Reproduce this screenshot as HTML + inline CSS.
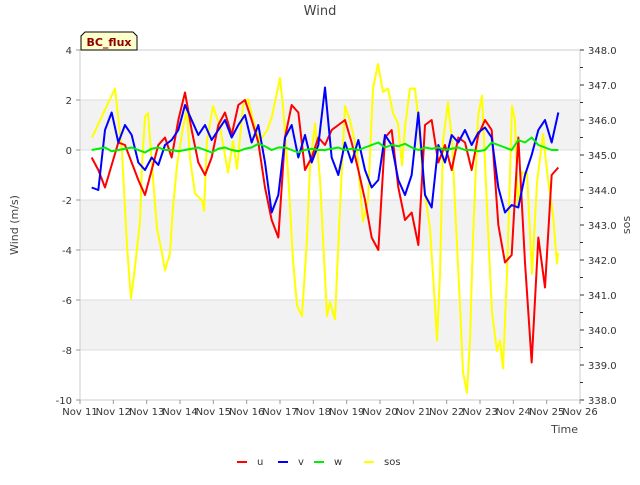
<!DOCTYPE html>
<html><head><meta charset="utf-8"><style>
body{margin:0;background:#fff;font-family:"Liberation Sans","DejaVu Sans",sans-serif}
svg text{font-family:"DejaVu Sans","Liberation Sans",sans-serif}
</style></head><body>
<svg id="chart" width="640" height="480" xmlns="http://www.w3.org/2000/svg">
<rect width="640" height="480" fill="#fff"/>
<g id="bands"></g><g id="grid"></g>
<rect x="80" y="50" width="500" height="350" fill="none" stroke="#ccc"/>
<g id="series"></g><g id="axes"></g>
<text x="320" y="15" text-anchor="middle" font-size="13" fill="#444">Wind</text>
<text transform="translate(18,225) rotate(-90)" text-anchor="middle" font-size="11" fill="#444">Wind (m/s)</text>
<text transform="translate(630,225) rotate(-90)" text-anchor="middle" font-size="11" fill="#444">sos</text>
<text x="578" y="433" text-anchor="end" font-size="11" fill="#444">Time</text>
<g>
<path d="M81,50 L81,36 L85,32 L133,32 L137,36 L137,50 Z" fill="#ffffcc" stroke="#000"/>
<text x="109" y="46" text-anchor="middle" font-size="11" font-weight="bold" fill="#8b0000">BC_flux</text></g>
<g id="legend"></g>
</svg>
<script>
const times=[0.35,0.55,0.75,0.95,1.15,1.35,1.55,1.75,1.95,2.15,2.35,2.55,2.75,2.95,3.15,3.35,3.55,3.75,3.95,4.15,4.35,4.55,4.75,4.95,5.15,5.35,5.55,5.75,5.95,6.15,6.35,6.55,6.75,6.95,7.15,7.35,7.55,7.75,7.95,8.15,8.35,8.55,8.75,8.95,9.15,9.35,9.55,9.75,9.95,10.15,10.35,10.55,10.75,10.95,11.15,11.35,11.55,11.75,11.95,12.15,12.35,12.55,12.75,12.95,13.15,13.35,13.55,13.75,13.95,14.15,14.35];
const uVals=[-0.3,-0.8,-1.5,-0.6,0.3,0.2,-0.5,-1.2,-1.8,-0.8,0.2,0.5,-0.3,1.2,2.3,0.8,-0.5,-1.0,-0.3,1.0,1.5,0.6,1.8,2.0,1.2,0.3,-1.5,-2.8,-3.5,0.5,1.8,1.5,-0.8,-0.3,0.5,0.2,0.8,1.0,1.2,0.3,-0.8,-2.0,-3.5,-4.0,0.5,0.8,-1.5,-2.8,-2.5,-3.8,1.0,1.2,-0.5,0.2,-0.8,0.5,0.3,-0.8,0.6,1.2,0.8,-3.0,-4.5,-4.2,0.5,-4.5,-8.5,-3.5,-5.5,-1.0,-0.7];
const vVals=[-1.5,-1.6,0.8,1.5,0.3,1.0,0.6,-0.5,-0.8,-0.3,-0.6,0.2,0.4,0.8,1.8,1.2,0.6,1.0,0.4,0.8,1.2,0.5,1.0,1.4,0.3,1.0,-0.5,-2.5,-1.8,0.5,1.0,-0.3,0.6,-0.5,0.2,2.5,-0.3,-1.0,0.3,-0.5,0.4,-0.8,-1.5,-1.2,0.6,0.2,-1.2,-1.8,-1.0,1.5,-1.8,-2.3,0.2,-0.5,0.6,0.3,0.8,0.2,0.7,0.9,0.5,-1.5,-2.5,-2.2,-2.3,-1.0,-0.2,0.8,1.2,0.3,1.5];
const wVals=[0.0,0.05,0.1,-0.05,0.0,0.05,0.1,0.0,-0.1,0.05,0.1,0.0,0.0,-0.05,0.0,0.05,0.1,0.0,-0.1,0.05,0.1,0.0,-0.05,0.05,0.1,0.25,0.15,0.0,0.1,0.1,0.0,-0.1,0.0,0.05,0.0,0.0,0.05,0.1,0.0,0.05,0.0,0.1,0.2,0.3,0.1,0.2,0.15,0.25,0.1,0.0,0.1,0.05,0.1,0.0,0.05,0.1,0.0,0.0,-0.05,0.0,0.3,0.2,0.1,0.0,0.4,0.3,0.5,0.2,0.1,0.0,0.0];
const sosTimes=[0.36,1.05,1.26,1.41,1.53,1.65,1.8,1.86,1.95,2.04,2.16,2.31,2.46,2.55,2.7,2.79,2.91,3.09,3.21,3.3,3.45,3.66,3.72,3.81,3.99,4.2,4.44,4.59,4.71,4.89,5.04,5.19,5.4,5.61,5.76,6.0,6.09,6.24,6.39,6.51,6.66,6.81,6.9,7.05,7.2,7.41,7.5,7.65,7.71,7.8,7.95,8.1,8.31,8.49,8.64,8.79,8.94,9.09,9.24,9.39,9.54,9.66,9.75,9.9,10.05,10.14,10.29,10.5,10.65,10.71,10.8,10.89,11.04,11.16,11.25,11.4,11.49,11.61,11.7,11.79,11.94,12.06,12.21,12.36,12.51,12.6,12.69,12.81,12.96,13.05,13.14,13.26,13.41,13.56,13.71,13.89,14.04,14.19,14.31,14.34];
const sosVals=[345.5,346.9,345.1,342.4,340.9,341.8,343.1,344.7,346.1,346.2,344.7,342.9,342.2,341.7,342.2,343.5,344.7,345.8,346.3,344.9,343.9,343.7,343.4,345.4,346.4,345.8,344.5,345.4,344.6,346.4,346.6,346.0,345.4,345.7,346.1,347.2,346.4,344.5,342.0,340.7,340.4,342.6,344.7,345.9,344.3,340.4,340.8,340.3,341.6,343.5,346.4,346.0,345.1,343.1,343.7,346.9,347.6,346.8,346.9,346.2,345.9,344.7,345.8,346.9,346.9,346.1,344.3,342.9,340.7,339.7,341.6,345.4,346.5,345.4,343.6,340.7,338.8,338.2,339.7,342.6,346.1,346.7,343.5,340.5,339.4,339.7,338.9,341.6,346.4,346.0,343.5,344.5,344.5,341.6,344.2,345.6,344.3,343.3,341.9,342.2];
const xTickLabels=["Nov 11","Nov 12","Nov 13","Nov 14","Nov 15","Nov 16","Nov 17","Nov 18","Nov 19","Nov 20","Nov 21","Nov 22","Nov 23","Nov 24","Nov 25","Nov 26"];
const yTicks=[4,2,0,-2,-4,-6,-8,-10];
const y2Ticks=[348,347,346,345,344,343,342,341,340,339,338];

const NS="http://www.w3.org/2000/svg";
const X=d=>80+d*500/15, Y=v=>50+(4-v)*25, Y2=s=>50+(348-s)*35;
function mk(tag,attrs,parent,txt){const e=document.createElementNS(NS,tag);for(const k in attrs)e.setAttribute(k,attrs[k]);if(txt!==undefined)e.textContent=txt;parent.appendChild(e);return e;}
const bands=document.getElementById('bands'),grid=document.getElementById('grid'),axes=document.getElementById('axes'),series=document.getElementById('series'),legend=document.getElementById('legend');
[[2,0],[-2,-4],[-6,-8]].forEach(b=>{const r=mk('rect',{x:80,y:Y(b[0]),width:500,height:Y(b[1])-Y(b[0]),fill:'#f2f2f2'},bands);

});
yTicks.forEach(v=>{const l=mk('line',{x1:80,x2:580,y1:Y(v),y2:Y(v),stroke:'#ddd'},grid);


mk('line',{x1:76,x2:80,y1:Y(v),y2:Y(v),stroke:'#999'},axes);
const t=mk('text',{x:72,y:Y(v)+4,'text-anchor':'end','font-size':10,fill:'#333'},axes,String(v));

});
y2Ticks.forEach(s=>{mk('line',{x1:580,x2:584,y1:Y2(s),y2:Y2(s),stroke:'#333'},axes);
if(s>338)mk('line',{x1:580,x2:583,y1:Y2(s-0.5),y2:Y2(s-0.5),stroke:'#333'},axes);
const t=mk('text',{x:588,y:Y2(s)+4,'font-size':10,fill:'#333'},axes,s.toFixed(1));

});
xTickLabels.forEach((lab,i)=>{mk('line',{x1:X(i),x2:X(i),y1:400,y2:404,stroke:'#999'},axes);
const t=mk('text',{x:X(i),y:415,'text-anchor':'middle','font-size':10,fill:'#333'},axes,lab);

});
function line(ts,vs,fy,color,name){const p=mk('polyline',{points:ts.map((t,i)=>X(t)+','+fy(vs[i])).join(' '),fill:'none',stroke:color,'stroke-width':2,'stroke-linejoin':'round'},series);

}
line(sosTimes,sosVals,Y2,'#ffff00','sos-line');
line(times,uVals,Y,'#ff0000','u-line');
line(times,vVals,Y,'#0000ff','v-line');
line(times,wVals,Y,'#00ee00','w-line');
[['u','#ff0000',237],['v','#0000ff',278],['w','#00ee00',314],['sos','#ffff00',364]].forEach(e=>{
const g=mk('g',{},legend);


mk('line',{x1:e[2],x2:e[2]+10,y1:462,y2:462,stroke:e[1],'stroke-width':2},g);
mk('text',{x:e[2]+20,y:465,'font-size':10,fill:'#333'},g,e[0]);});
</script>
</body></html>
